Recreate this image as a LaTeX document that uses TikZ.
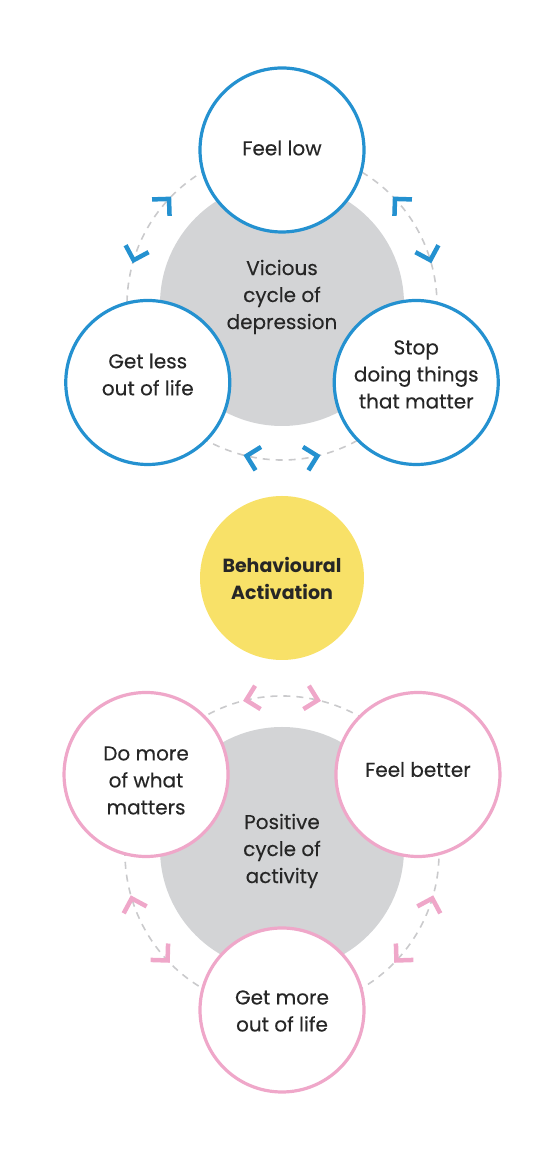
\documentclass[tikz,border=0pt]{standalone}
\usepackage{fontspec}
\setmainfont{Poppins}[UprightFeatures={FakeBold=0.3}]
\usetikzlibrary{calc,backgrounds}

\definecolor{cycleblue}{HTML}{2491D0}
\definecolor{cyclepink}{HTML}{EFA7C9}
\definecolor{coregray}{HTML}{D3D4D6}
\definecolor{dashgray}{HTML}{CACACC}
\definecolor{hubyellow}{HTML}{F8E168}
\definecolor{ink}{HTML}{262626}

\tikzset{
  pics/tip/.style={code={
    \draw[draw=#1, line width=4.5pt, line cap=butt, line join=miter]
      (-12pt,12pt) -- (0,0) -- (-12pt,-12pt);}},
}

\begin{document}
\begin{tikzpicture}[x=1pt, y=1pt,
    % --- Styles ---
    ball/.style={circle, fill=white, line width=3.2pt, minimum size=164pt,
                 inner sep=0pt},
    blueball/.style={ball, draw=cycleblue},
    pinkball/.style={ball, draw=cyclepink},
    core/.style={circle, fill=coregray, minimum size=244pt, inner sep=0pt},
    caption/.style={align=center, text=ink, font=\fontsize{20}{27}\selectfont},
    hub/.style={circle, fill=hubyellow, minimum size=164pt, inner sep=0pt,
                align=center, text=ink, font=\bfseries\fontsize{19}{27}\selectfont},
    ring/.style={dashgray, line width=1.6pt, dash pattern=on 7pt off 6pt},
]
\useasboundingbox (0,0) rectangle (547,1160);

% === Vicious cycle (top) ===
\coordinate (topmid) at (282,855);
\node[core] (vcore) at (282,856) {};
\node[caption] (vtext) at (282,863) {Vicious\\cycle of\\depression};
\node[blueball] (low)  at ($(topmid)+(90:155pt)$)  {};
\node[blueball] (less) at ($(topmid)+(210:155pt)$) {};
\node[blueball] (stop) at ($(topmid)+(330:155pt)$) {};
\node[caption] (lowtext)  at ($(low)+(0,2)$)  {Feel low};
\node[caption] (lesstext) at ($(less)+(0,8)$) {Get less\\out of life};
\node[caption] (stoptext) at ($(stop)+(0,8)$) {Stop\\doing things\\that matter};

% === Behavioural activation ===
\node[hub] (ba) at (282,582) {Behavioural\\Activation};

% === Positive cycle (bottom) ===
\coordinate (botmid) at (282,307);
\node[core] (pcore) at (282,311) {};
\node[caption] (ptext) at (282,309) {Positive\\cycle of\\activity};
\node[pinkball] (better)  at ($(botmid)+(30:157pt)$)  {};
\node[pinkball] (domore)  at ($(botmid)+(150:157pt)$) {};
\node[pinkball] (getmore) at ($(botmid)+(270:157pt)$) {};
\node[caption] (bettertext)  at ($(better)+(0,5)$)   {Feel better};
\node[caption] (domoretext)  at ($(domore)+(0,-6)$)  {Do more\\of what\\matters};
\node[caption] (getmoretext) at ($(getmore)+(0,-1)$) {Get more\\out of life};

% === Dashed loops behind the circles ===
\begin{scope}[on background layer]
\draw[ring] (low.center) arc[start angle=90, end angle=210, radius=155pt];
\draw[ring] (less.center) arc[start angle=210, end angle=330, radius=155pt];
\draw[ring] (stop.center) arc[start angle=330, end angle=450, radius=155pt];

\draw[ring] (better.center) arc[start angle=30, end angle=150, radius=157pt];
\draw[ring] (domore.center) arc[start angle=150, end angle=270, radius=157pt];
\draw[ring] (getmore.center) arc[start angle=270, end angle=390, radius=157pt];
\end{scope}

% === Two-way chevrons on each loop ===
\foreach \a in {90,210,330} {
  \pic[rotate=\a+46.8-90] at ($(topmid)+({\a+46.8}:155pt)$) {tip=cycleblue};
  \pic[rotate=\a+73.2+90] at ($(topmid)+({\a+73.2}:155pt)$) {tip=cycleblue};
}
\foreach \a in {30,150,270} {
  \pic[rotate=\a+46.8-90] at ($(botmid)+({\a+46.8}:157pt)$) {tip=cyclepink};
  \pic[rotate=\a+73.2+90] at ($(botmid)+({\a+73.2}:157pt)$) {tip=cyclepink};
}

\end{tikzpicture}
\end{document}
